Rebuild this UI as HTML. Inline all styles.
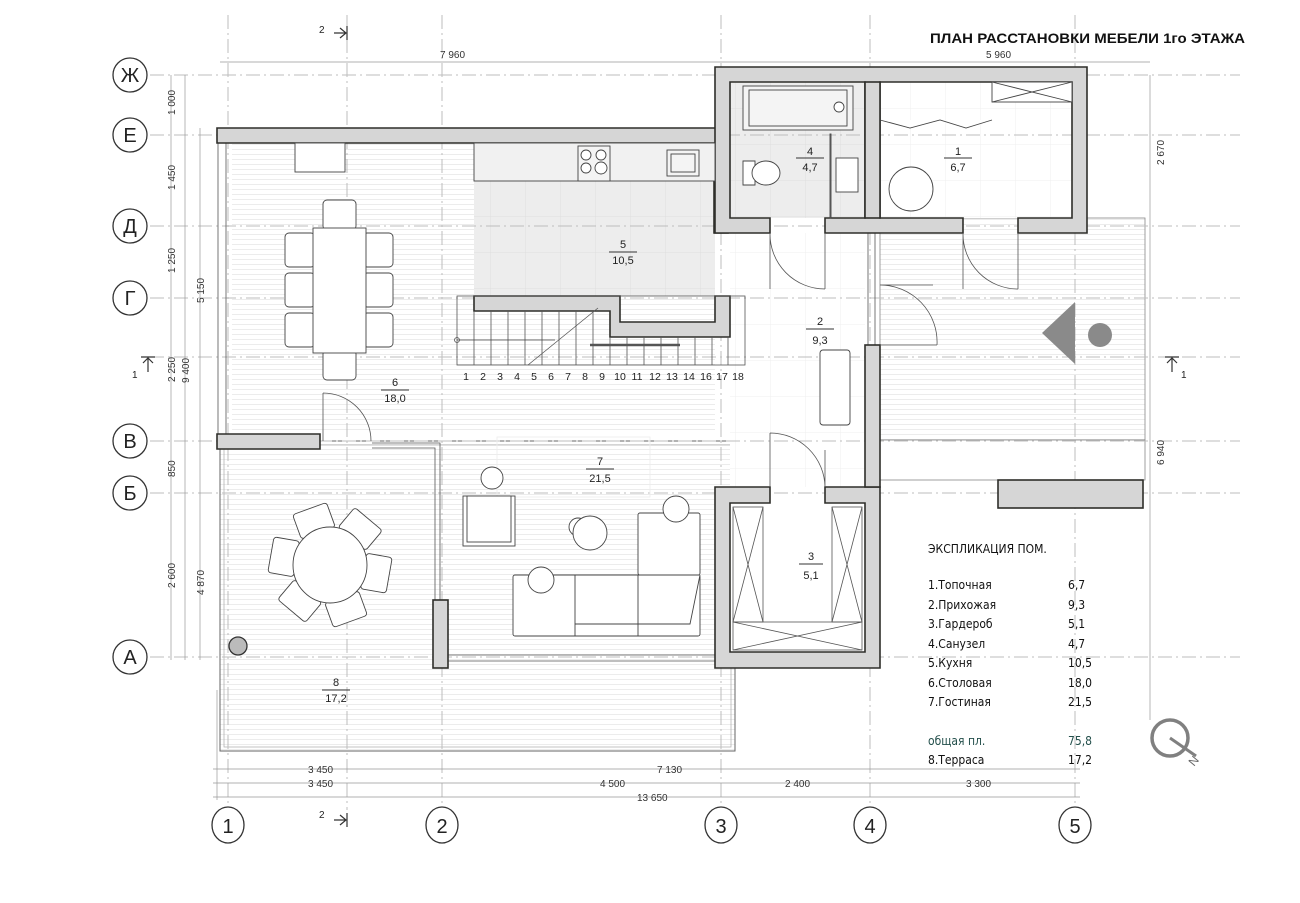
<!DOCTYPE html>
<html><head><meta charset="utf-8"><style>
html,body{margin:0;padding:0;background:#fff;}
svg{display:block;font-family:"Liberation Sans","DejaVu Sans",sans-serif;}
.ax{stroke:#bdbdbd;stroke-width:1;stroke-dasharray:14 4 2 4;fill:none}
.w{fill:#d6d6d6;stroke:#2e2e2a;stroke-width:1.6}
.t{stroke:#555;stroke-width:0.8;fill:none}
.f{stroke:#444;stroke-width:0.9;fill:#fff}
.d{stroke:#999;stroke-width:0.7;fill:none}
.dt{font-size:10px;fill:#333}
.rn{font-size:11px;fill:#222;text-anchor:middle}
.lg{font-size:12px;fill:#111;font-family:"DejaVu Sans Condensed","DejaVu Sans",sans-serif}
</style></head><body>
<svg width="1300" height="903" viewBox="0 0 1300 903" xmlns="http://www.w3.org/2000/svg">
<defs>
<pattern id="sl" width="10" height="5" patternUnits="userSpaceOnUse"><rect width="10" height="5" fill="#fff"/><line x1="0" y1="4.5" x2="10" y2="4.5" stroke="#ececec" stroke-width="1"/></pattern>
<pattern id="tg" width="35" height="36" patternUnits="userSpaceOnUse"><rect width="35" height="36" fill="#ededed"/><path d="M0 0H35M0 0V36" stroke="#dedede" stroke-width="1"/></pattern>
<pattern id="tw" width="35" height="36" patternUnits="userSpaceOnUse"><rect width="35" height="36" fill="#fff"/><path d="M0 0H35M0 0V36" stroke="#efefef" stroke-width="1"/></pattern>
</defs>

<rect x="220" y="441" width="515" height="310" fill="url(#sl)" stroke="#666" stroke-width="1"/>
<rect x="224" y="445" width="507" height="302" fill="none" stroke="#aaa" stroke-width="0.7"/>
<rect x="232" y="143" width="483" height="291" fill="url(#sl)"/>
<rect x="448" y="449" width="267" height="211" fill="url(#sl)"/>
<rect x="474" y="143" width="241" height="153" fill="url(#tg)"/>
<rect x="730" y="233" width="135" height="254" fill="url(#tw)"/>
<rect x="880" y="218" width="265" height="222" fill="url(#sl)" stroke="#888" stroke-width="0.8"/>
<rect x="880" y="440" width="265" height="40" fill="#fff" stroke="#888" stroke-width="0.8"/>
<rect x="730" y="82" width="135" height="136" fill="url(#tg)"/>
<rect x="880" y="82" width="192" height="136" fill="url(#tw)"/>
<rect x="730" y="503" width="135" height="149" fill="#fff"/>

<g class="ax">
<line x1="228" y1="15" x2="228" y2="805"/><line x1="442" y1="15" x2="442" y2="805"/>
<line x1="721" y1="15" x2="721" y2="805"/><line x1="870" y1="15" x2="870" y2="805"/>
<line x1="1075" y1="15" x2="1075" y2="805"/><line x1="347" y1="15" x2="347" y2="810"/>
<line x1="150" y1="75" x2="1240" y2="75"/><line x1="150" y1="135" x2="1240" y2="135"/>
<line x1="150" y1="226" x2="1240" y2="226"/><line x1="150" y1="298" x2="1240" y2="298"/>
<line x1="150" y1="357" x2="1240" y2="357"/><line x1="150" y1="441" x2="1240" y2="441"/>
<line x1="150" y1="493" x2="1240" y2="493"/><line x1="150" y1="657" x2="1240" y2="657"/>
</g>

<g class="d">
<line x1="220" y1="62" x2="1150" y2="62"/>
<line x1="171" y1="75" x2="171" y2="660"/><line x1="185" y1="75" x2="185" y2="660"/><line x1="200" y1="128" x2="200" y2="660"/>
<line x1="1150" y1="75" x2="1150" y2="720"/>
<line x1="213" y1="769" x2="1080" y2="769"/><line x1="213" y1="783" x2="1080" y2="783"/><line x1="213" y1="797" x2="1080" y2="797"/>
<line x1="217" y1="690" x2="217" y2="800"/>
</g>
<g class="dt">
<text x="440" y="58">7 960</text><text x="986" y="58">5 960</text>
<text x="308" y="773">3 450</text><text x="657" y="773">7 130</text>
<text x="308" y="787">3 450</text><text x="600" y="787">4 500</text><text x="785" y="787">2 400</text><text x="966" y="787">3 300</text>
<text x="637" y="801">13 650</text>
<g transform="rotate(-90)">
<text x="-115" y="175">1 000</text><text x="-190" y="175">1 450</text><text x="-273" y="175">1 250</text><text x="-382" y="175">2 250</text><text x="-477" y="175">850</text><text x="-588" y="175">2 600</text>
<text x="-383" y="189">9 400</text><text x="-303" y="204">5 150</text><text x="-595" y="204">4 870</text>
<text x="-165" y="1164">2 670</text><text x="-465" y="1164">6 940</text>
</g>
</g>

<g font-size="20" text-anchor="middle" fill="#222">
<g stroke="#333" stroke-width="1.3" fill="#fff">
<circle cx="130" cy="75" r="17"/><circle cx="130" cy="135" r="17"/><circle cx="130" cy="226" r="17"/><circle cx="130" cy="298" r="17"/>
<circle cx="130" cy="441" r="17"/><circle cx="130" cy="493" r="17"/><circle cx="130" cy="657" r="17"/>
<ellipse cx="228" cy="825" rx="16" ry="18"/><ellipse cx="442" cy="825" rx="16" ry="18"/><ellipse cx="721" cy="825" rx="16" ry="18"/><ellipse cx="870" cy="825" rx="16" ry="18"/><ellipse cx="1075" cy="825" rx="16" ry="18"/>
</g>
<text x="130" y="82">Ж</text><text x="130" y="142">Е</text><text x="130" y="233">Д</text><text x="130" y="305">Г</text>
<text x="130" y="448">В</text><text x="130" y="500">Б</text><text x="130" y="664">А</text>
<text x="228" y="833">1</text><text x="442" y="833">2</text><text x="721" y="833">3</text><text x="870" y="833">4</text><text x="1075" y="833">5</text>
</g>

<g stroke="#333" stroke-width="1.2" fill="none">
<path d="M334 33H346M340 28L346 33L340 38M347 26V40"/>
<path d="M334 820H346M340 815L346 820L340 825M347 813V827"/>
<path d="M148 372V358M143 363L148 358L153 363M141 357H155"/>
<path d="M1172 372V358M1167 363L1172 358L1177 363M1165 357H1179"/>
</g>
<g font-size="10" fill="#222"><text x="319" y="33">2</text><text x="319" y="818">2</text><text x="132" y="378">1</text><text x="1181" y="378">1</text></g>

<g class="t">
<rect x="218" y="143" width="8" height="291"/><rect x="715" y="82" width="7" height="46"/>
<rect x="868" y="233" width="7" height="112"/>
<path d="M372 443H440V600M372 448H435V600"/>
<path d="M448 655H715M448 661H715"/>
</g>

<g class="w">
<path d="M217 128H728V233H714V143H217Z"/>
<path d="M217 434H320V449H217Z"/>
<path d="M715 67H1087V233H1018V218H1072V82H880V218H963V233H825V218H865V82H730V218H770V233H715Z"/>
<rect x="865" y="82" width="15" height="136"/>
<path d="M474 296H620V322H715V296H730V337H610V311H474Z"/>
<path d="M715 487H770V503H730V652H865V503H825V487H880V668H715Z"/>
<rect x="865" y="345" width="15" height="142"/>
<rect x="433" y="600" width="15" height="68"/>
<rect x="998" y="480" width="145" height="28"/>
</g>

<g class="t" stroke="#777">
<rect x="457" y="296" width="288" height="69"/>
<path d="M474 311V365M491 311V365M508 311V365M525 311V365M542 311V365M559 311V365M576 311V365M593 311V365M610 337V365M627 337V365M644 337V365M661 337V365M678 337V365M695 337V365M712 337V365M728 337V365"/>
<path d="M457 340H555" stroke="#444"/><circle cx="457" cy="340" r="2.5"/>
<path d="M528 365L598 308"/>
<path d="M590 345H680" stroke="#555" stroke-width="2.5"/>
</g>
<g font-size="10.5" fill="#222" text-anchor="middle">
<text x="466" y="380">1</text><text x="483" y="380">2</text><text x="500" y="380">3</text><text x="517" y="380">4</text><text x="534" y="380">5</text><text x="551" y="380">6</text><text x="568" y="380">7</text><text x="585" y="380">8</text><text x="602" y="380">9</text><text x="620" y="380">10</text><text x="637" y="380">11</text><text x="655" y="380">12</text><text x="672" y="380">13</text><text x="689" y="380">14</text><text x="706" y="380">16</text><text x="722" y="380">17</text><text x="738" y="380">18</text>
</g>

<g class="f">
<rect x="474" y="143" width="241" height="38" fill="#f1f1f1"/>
<rect x="578" y="146" width="32" height="35" fill="#f4f4f4"/>
<circle cx="586" cy="155" r="5"/><circle cx="601" cy="155" r="5"/><circle cx="586" cy="168" r="5"/><circle cx="601" cy="168" r="6"/>
<rect x="667" y="150" width="32" height="26" fill="#f4f4f4"/><rect x="671" y="154" width="24" height="18" fill="#f4f4f4"/>
<rect x="295" y="143" width="50" height="29"/>
</g>

<g class="f">
<rect x="323" y="200" width="33" height="30" rx="4"/><rect x="323" y="350" width="33" height="30" rx="4"/>
<rect x="285" y="233" width="30" height="34" rx="4"/><rect x="285" y="273" width="30" height="34" rx="4"/><rect x="285" y="313" width="30" height="34" rx="4"/>
<rect x="363" y="233" width="30" height="34" rx="4"/><rect x="363" y="273" width="30" height="34" rx="4"/><rect x="363" y="313" width="30" height="34" rx="4"/>
<rect x="313" y="228" width="53" height="125"/>
</g>

<g class="t" stroke="#444">
<path d="M323 393V441M323 393A48 48 0 0 1 371 441"/>
<path d="M770 233V289M825 233V289M770 233A55 55 0 0 0 825 289"/>
<path d="M963 233V289M1018 233V289M963 233A55 55 0 0 0 1018 289"/>
<path d="M880 285H933M880 345H937M880 285A57 57 0 0 1 937 345"/>
<path d="M770 433V487M825 487V450M770 433A55 55 0 0 1 825 487"/>
</g>

<g class="f">
<rect x="743" y="86" width="110" height="44" fill="#f4f4f4"/><rect x="749" y="90" width="98" height="36" fill="#f4f4f4"/>
<circle cx="839" cy="107" r="5"/>
<path d="M743 161H755V185H743Z"/><ellipse cx="766" cy="173" rx="14" ry="12"/>
<rect x="836" y="158" width="22" height="34"/><rect x="830" y="134" width="1" height="84"/>
</g>
<g class="f">
<circle cx="911" cy="189" r="22"/>
<rect x="992" y="82" width="80" height="20"/><path d="M992 82L1072 102M992 102L1072 82"/>
<path d="M880 120L910 128L940 120L966 128L992 120"/>
</g>
<g class="t" stroke="#777">
<rect x="733" y="507" width="30" height="115"/><path d="M733 507L763 622M763 507L733 622"/>
<rect x="832" y="507" width="30" height="115"/><path d="M832 507L862 622M862 507L832 622"/>
<rect x="733" y="622" width="129" height="28"/><path d="M733 622L862 650M862 622L733 650"/>
</g>
<rect x="820" y="350" width="30" height="75" rx="3" class="f"/>
<polygon points="1042,333 1075,302 1075,364" fill="#8a8a8a"/>
<circle cx="1100" cy="335" r="12" fill="#8a8a8a"/>

<g class="f">
<rect x="497" y="437" width="153" height="60" fill="none" stroke="#eee"/>
<circle cx="492" cy="478" r="11"/>
<rect x="463" y="496" width="52" height="50"/><rect x="467" y="496" width="44" height="46"/>
<rect x="513" y="575" width="187" height="61" rx="2"/><rect x="638" y="513" width="62" height="62" rx="2"/>
<path d="M575 575V636M638 575V636M575 624H690L700 575"/>
<circle cx="578" cy="527" r="9"/><circle cx="590" cy="533" r="17"/>
<circle cx="541" cy="580" r="13"/><circle cx="676" cy="509" r="13"/>
</g>

<g class="f">
<g transform="translate(330,565)">
<rect x="-18" y="-60" width="36" height="26" rx="3" transform="rotate(-20)"/>
<rect x="-18" y="-60" width="36" height="26" rx="3" transform="rotate(40)"/>
<rect x="-18" y="-60" width="36" height="26" rx="3" transform="rotate(100)"/>
<rect x="-18" y="-60" width="36" height="26" rx="3" transform="rotate(160)"/>
<rect x="-18" y="-60" width="36" height="26" rx="3" transform="rotate(220)"/>
<rect x="-18" y="-60" width="36" height="26" rx="3" transform="rotate(280)"/>
<ellipse cx="0" cy="0" rx="37" ry="38"/>
</g>
</g>
<circle cx="238" cy="646" r="9" fill="#bbb" stroke="#333" stroke-width="1.3"/>

<g class="rn">
<text x="623" y="248">5</text><line x1="609" y1="252" x2="637" y2="252" stroke="#333"/><text x="623" y="264">10,5</text>
<text x="395" y="386">6</text><line x1="381" y1="390" x2="409" y2="390" stroke="#333"/><text x="395" y="402">18,0</text>
<text x="600" y="465">7</text><line x1="586" y1="469" x2="614" y2="469" stroke="#333"/><text x="600" y="482">21,5</text>
<text x="336" y="686">8</text><line x1="322" y1="690" x2="350" y2="690" stroke="#333"/><text x="336" y="702">17,2</text>
<text x="811" y="560">3</text><line x1="799" y1="564" x2="823" y2="564" stroke="#333"/><text x="811" y="579">5,1</text>
<text x="820" y="325">2</text><line x1="806" y1="329" x2="834" y2="329" stroke="#333"/><text x="820" y="344">9,3</text>
<text x="810" y="155">4</text><line x1="796" y1="158" x2="824" y2="158" stroke="#333"/><text x="810" y="171">4,7</text>
<text x="958" y="155">1</text><line x1="944" y1="158" x2="972" y2="158" stroke="#333"/><text x="958" y="171">6,7</text>
</g>

<text x="930" y="43" font-size="14" font-weight="bold" fill="#111" textLength="315" lengthAdjust="spacingAndGlyphs">ПЛАН РАССТАНОВКИ МЕБЕЛИ 1го ЭТАЖА</text>

<g class="lg">
<text x="928" y="553">ЭКСПЛИКАЦИЯ ПОМ.</text>
<text x="928" y="589">1.Топочная</text><text x="1068" y="589">6,7</text>
<text x="928" y="609">2.Прихожая</text><text x="1068" y="609">9,3</text>
<text x="928" y="628">3.Гардероб</text><text x="1068" y="628">5,1</text>
<text x="928" y="648">4.Санузел</text><text x="1068" y="648">4,7</text>
<text x="928" y="667">5.Кухня</text><text x="1068" y="667">10,5</text>
<text x="928" y="687">6.Столовая</text><text x="1068" y="687">18,0</text>
<text x="928" y="706">7.Гостиная</text><text x="1068" y="706">21,5</text>
<text x="928" y="745" fill="#24504c">общая пл.</text><text x="1068" y="745" fill="#24504c">75,8</text>
<text x="928" y="764">8.Терраса</text><text x="1068" y="764">17,2</text>
</g>

<circle cx="1170" cy="738" r="18" fill="none" stroke="#808080" stroke-width="3.5"/>
<line x1="1170" y1="738" x2="1196" y2="756" stroke="#808080" stroke-width="3"/>
<text x="1188" y="766" font-size="12" fill="#666" transform="rotate(-50 1192 760)">N</text>
</svg>
</body></html>
